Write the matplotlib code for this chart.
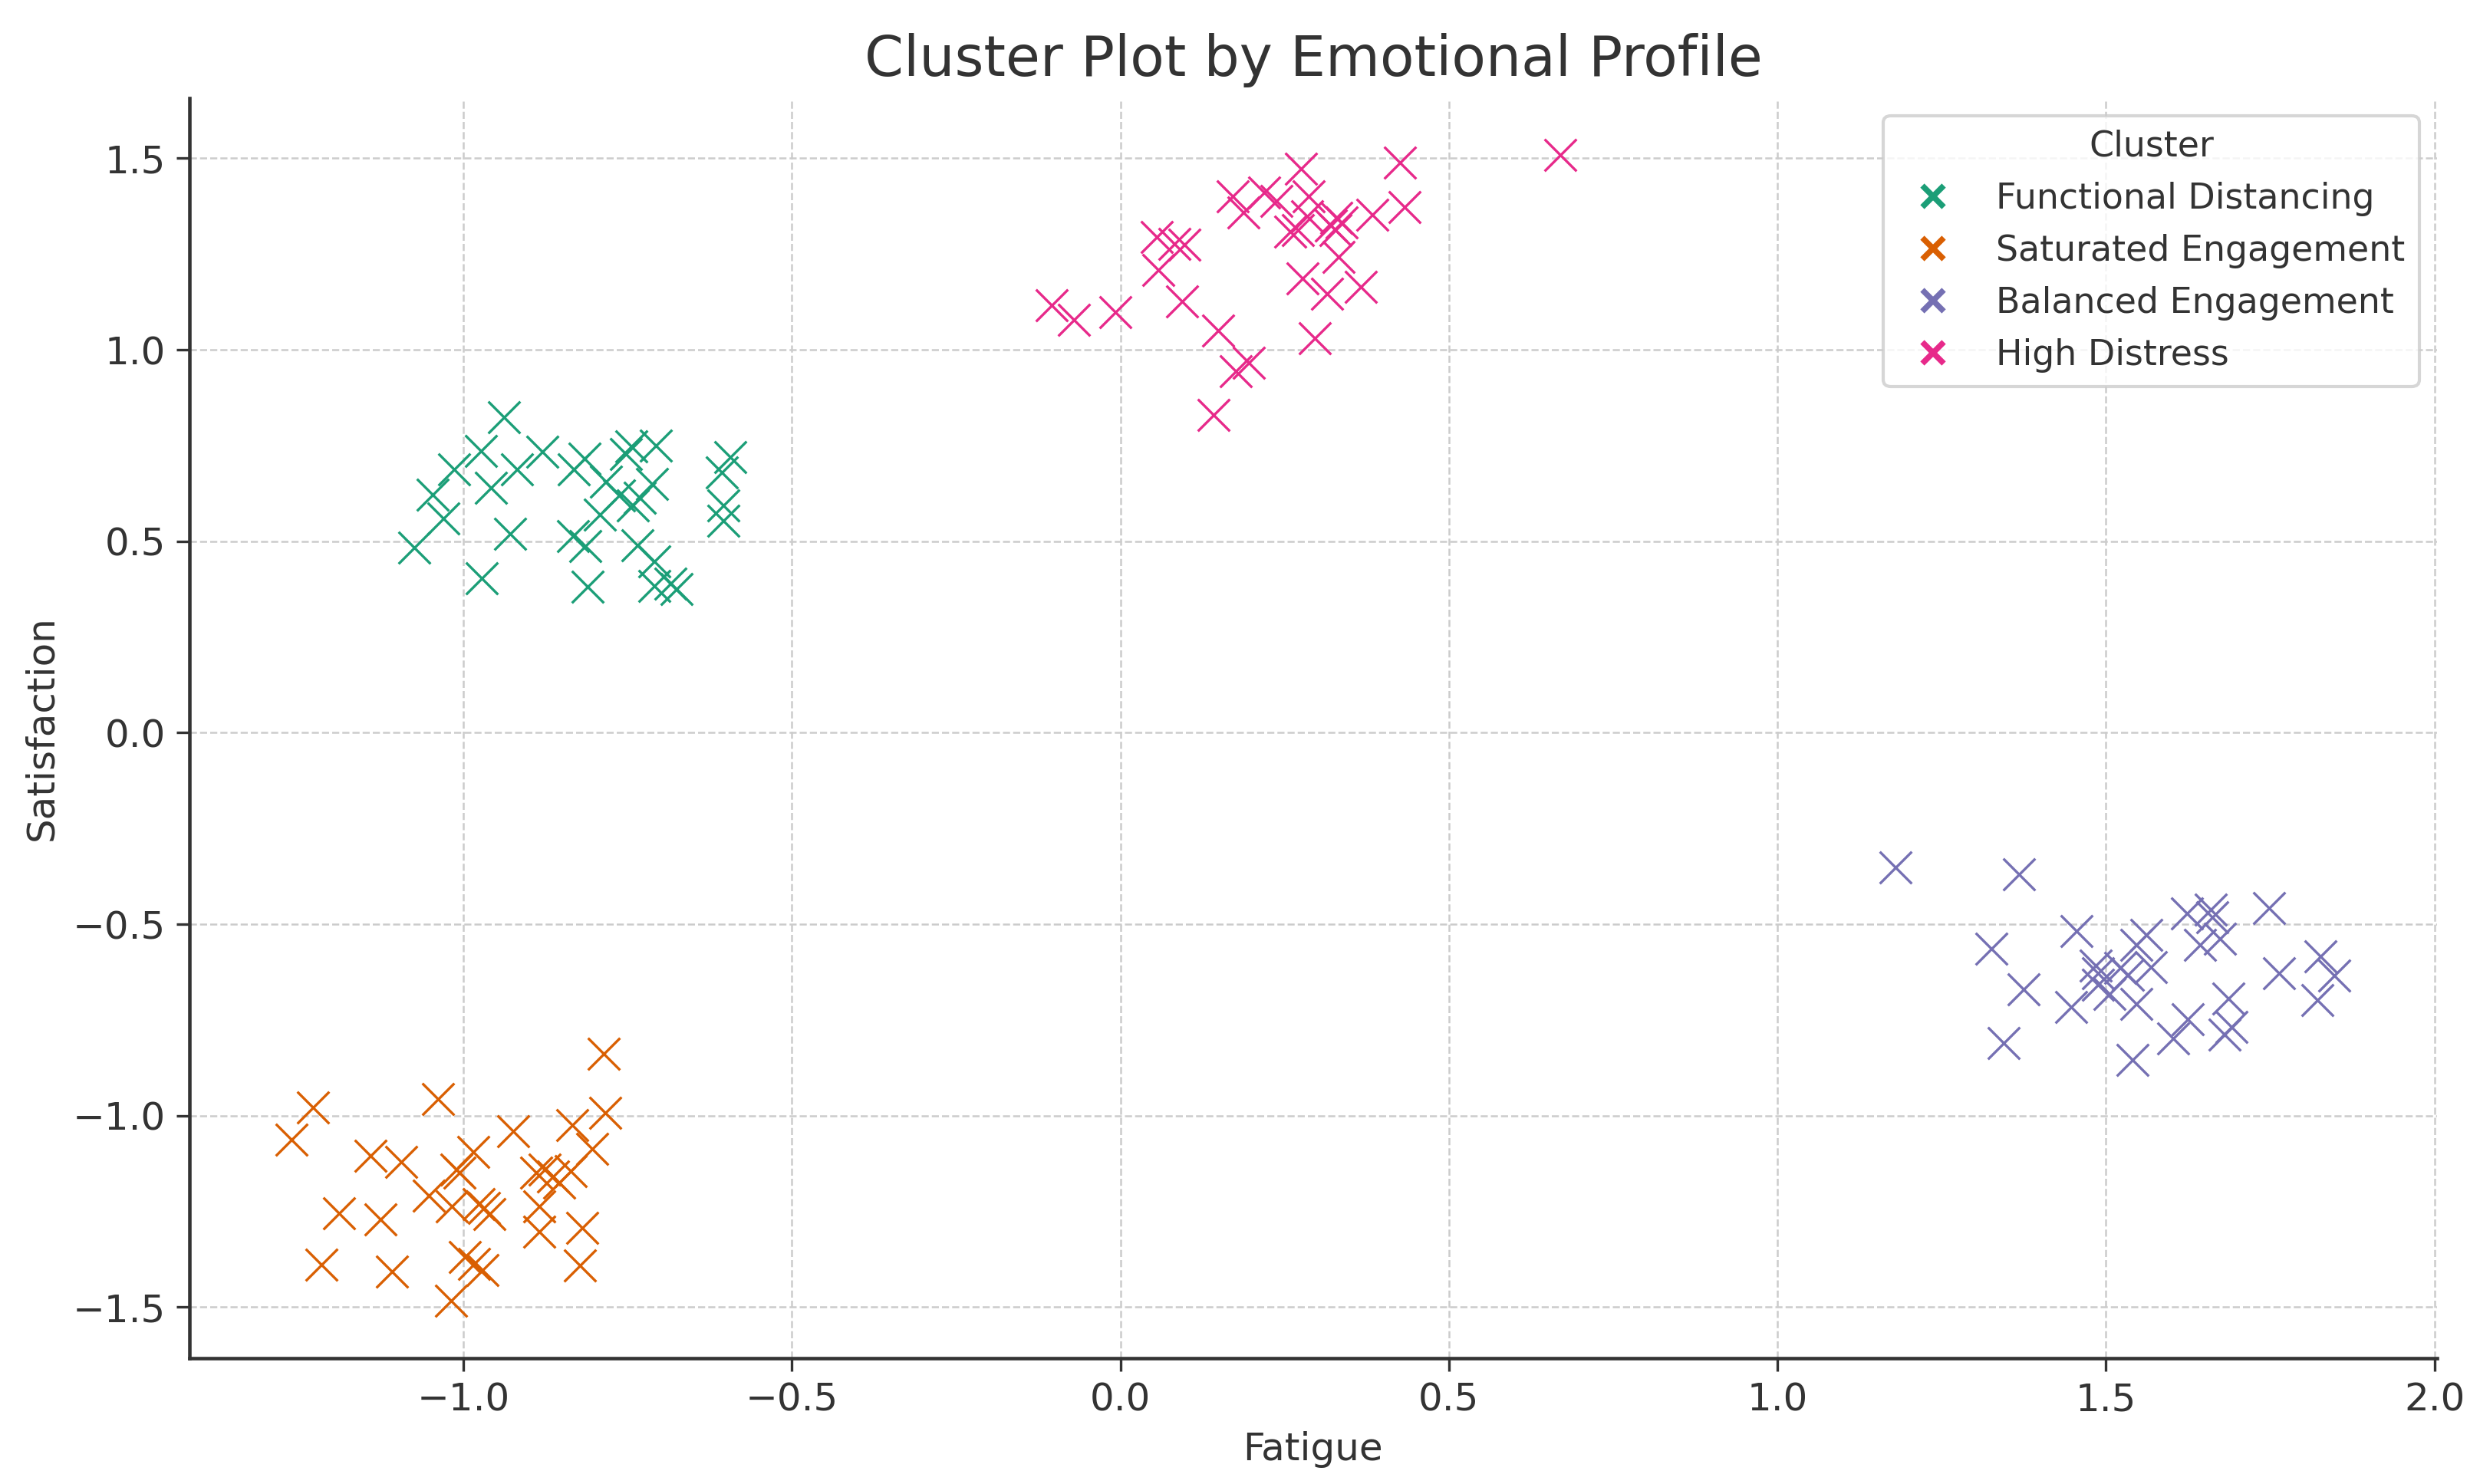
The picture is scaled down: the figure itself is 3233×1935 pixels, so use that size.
import numpy as np
import matplotlib.pyplot as plt
from matplotlib.lines import Line2D

# cluster point values (Fatigue, Satisfaction)
fd_fatigue = [-0.938, -0.973, -1.014, -1.047, -1.030, -1.075, -0.958, -0.918, -0.880, -0.929,
              -0.972, -0.832, -0.815, -0.783, -0.753, -0.744, -0.707, -0.763, -0.742, -0.732,
              -0.713, -0.792, -0.833, -0.814, -0.735, -0.709, -0.811, -0.709, -0.685, -0.675,
              -0.594, -0.606, -0.604, -0.604]
fd_satisf = [0.823, 0.735, 0.687, 0.621, 0.559, 0.483, 0.639, 0.687, 0.733, 0.520,
             0.403, 0.687, 0.715, 0.655, 0.727, 0.747, 0.750, 0.620, 0.593, 0.613,
             0.650, 0.570, 0.513, 0.487, 0.490, 0.447, 0.382, 0.383, 0.390, 0.375,
             0.720, 0.680, 0.593, 0.553]

se_fatigue = [-0.786, -1.229, -1.261, -1.039, -0.784, -0.834, -0.924, -1.141, -1.095, -0.985,
              -0.804, -1.010, -1.006, -0.889, -0.876, -0.864, -0.854, -0.837, -1.052, -1.017,
              -0.977, -0.969, -0.960, -0.885, -0.885, -1.189, -1.126, -0.819, -1.216, -1.109,
              -0.998, -0.971, -0.823, -1.019, -0.984]
se_satisf = [-0.838, -0.978, -1.063, -0.957, -0.993, -1.025, -1.040, -1.104, -1.121, -1.094,
             -1.086, -1.141, -1.148, -1.148, -1.141, -1.158, -1.174, -1.144, -1.209, -1.237,
             -1.231, -1.241, -1.257, -1.237, -1.304, -1.255, -1.271, -1.293, -1.390, -1.408,
             -1.370, -1.404, -1.392, -1.483, -1.387]

be_fatigue = [1.180, 1.368, 1.326, 1.375, 1.344, 1.455, 1.447, 1.485, 1.488, 1.505,
              1.488, 1.534, 1.522, 1.546, 1.561, 1.568, 1.546, 1.540, 1.623, 1.660,
              1.662, 1.643, 1.674, 1.748, 1.763, 1.827, 1.848, 1.822, 1.686, 1.681,
              1.691, 1.624, 1.602]
be_satisf = [-0.351, -0.369, -0.564, -0.671, -0.811, -0.517, -0.717, -0.609, -0.629, -0.682,
             -0.659, -0.632, -0.615, -0.555, -0.529, -0.612, -0.709, -0.854, -0.472, -0.462,
             -0.482, -0.555, -0.539, -0.457, -0.629, -0.585, -0.635, -0.699, -0.695, -0.789,
             -0.769, -0.749, -0.799]

hd_fatigue = [0.670, 0.275, 0.426, 0.171, 0.219, 0.237, 0.187, 0.286, 0.284, 0.259,
              0.270, 0.329, 0.337, 0.321, 0.328, 0.332, 0.383, 0.433, 0.055, 0.082,
              0.098, 0.058, 0.094, -0.105, -0.071, -0.008, 0.149, 0.277, 0.315, 0.366,
              0.296, 0.176, 0.196, 0.142]
hd_satisf = [1.508, 1.472, 1.488, 1.401, 1.411, 1.389, 1.358, 1.401, 1.348, 1.309,
             1.312, 1.345, 1.332, 1.325, 1.312, 1.243, 1.352, 1.372, 1.294, 1.276,
             1.274, 1.208, 1.127, 1.116, 1.078, 1.098, 1.051, 1.187, 1.146, 1.165,
             1.030, 0.943, 0.966, 0.830]

cluster_names = ["Functional Distancing", "Saturated Engagement", "Balanced Engagement", "High Distress"]
cluster_colors = ["#1b9e77", "#d95f02", "#7570b3", "#e7298a"]
cluster_data = [(fd_fatigue, fd_satisf), (se_fatigue, se_satisf),
                (be_fatigue, be_satisf), (hd_fatigue, hd_satisf)]

plt.rcParams["font.family"] = "DejaVu Sans"
text_col = "#333333"

fig = plt.figure(figsize=(10.777, 6.45), dpi=300)
ax = fig.add_axes([0.0765, 0.085, 0.906, 0.849])

for name, col, (fx, sy) in zip(cluster_names, cluster_colors, cluster_data):
    ax.scatter(fx, sy, marker="x", s=100, linewidths=0.8, color=col, label=name)

ax.grid(True, linestyle="--", linewidth=0.6, color="#cccccc")
ax.set_axisbelow(True)
for side in ["top", "right"]:
    ax.spines[side].set_visible(False)
for side in ["left", "bottom"]:
    ax.spines[side].set_linewidth(1.1)
    ax.spines[side].set_color(text_col)

ax.set_xticks([-1.0, -0.5, 0.0, 0.5, 1.0, 1.5, 2.0])
ax.set_yticks([-1.5, -1.0, -0.5, 0.0, 0.5, 1.0, 1.5])
ax.tick_params(labelsize=12, colors=text_col, length=4, width=0.8)
ax.set_xlabel("Fatigue", fontsize=12, color=text_col)
ax.set_ylabel("Satisfaction", fontsize=12, color=text_col)
ax.set_title("Cluster Plot by Emotional Profile", fontsize=17.5, color=text_col, pad=7)

# legend with small bold crosses like the reference
handles = [Line2D([], [], linestyle="none", marker="x", markersize=6.5,
                  markeredgewidth=1.8, color=c) for c in cluster_colors]
leg = ax.legend(handles, cluster_names, title="Cluster", loc="upper right",
                fontsize=11, title_fontsize=11, frameon=True)
for t in leg.get_texts():
    t.set_color(text_col)
leg.get_title().set_color(text_col)

fig.savefig("out.png", dpi=300)
